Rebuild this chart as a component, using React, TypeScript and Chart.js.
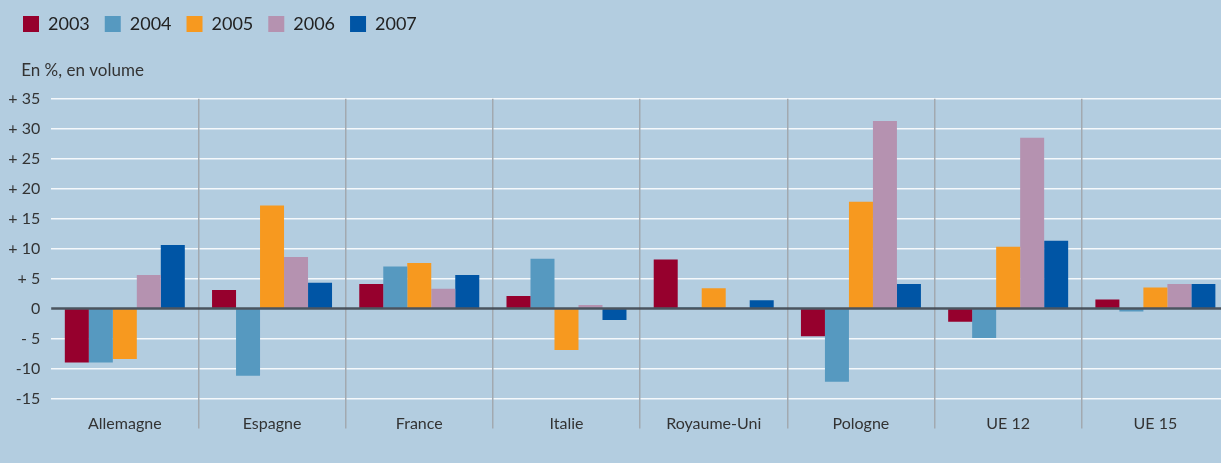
import React, { useEffect, useRef } from 'react';
import { Chart, registerables } from 'chart.js';

Chart.register(...registerables);

const categories = ['Allemagne', 'Espagne', 'France', 'Italie', 'Royaume-Uni', 'Pologne', 'UE 12', 'UE 15'];
const years = ['2003', '2004', '2005', '2006', '2007'];
const v2003 = [-9.0, 3.1, 4.1, 2.1, 8.2, -4.6, -2.2, 1.5];
const v2004 = [-9.0, -11.2, 7.0, 8.3, 0.2, -12.2, -4.9, -0.5];
const v2005 = [-8.4, 17.2, 7.6, -6.9, 3.4, 17.8, 10.3, 3.5];
const v2006 = [5.6, 8.6, 3.3, 0.6, 0.1, 31.3, 28.5, 4.1];
const v2007 = [10.6, 4.3, 5.6, -1.9, 1.4, 4.1, 11.3, 4.1];
const seriesValues = [v2003, v2004, v2005, v2006, v2007];
const seriesColors = ['#96002d', '#5699c0', '#f7991f', '#b592b0', '#0055a5'];
const yTicks = [-15, -10, -5, 0, 5, 10, 15, 20, 25, 30, 35];
const yTickLabels = ['-15', '-10', '- 5', '0', '+ 5', '+ 10', '+ 15', '+ 20', '+ 25', '+ 30', '+ 35'];
const unitLabel = 'En %, en volume';

const BG = '#b3cde0';
const TEXT = '#333333';

export default function App() {
  const ref = useRef<HTMLCanvasElement | null>(null);

  useEffect(() => {
    if (!ref.current) return;
    Chart.defaults.font.family = 'Lato, "Open Sans", sans-serif';

    const zeroLine = {
      id: 'zeroLine',
      afterDatasetsDraw(chart: any) {
        const { ctx, chartArea, scales } = chart;
        const y = scales.y.getPixelForValue(0);
        ctx.save();
        ctx.strokeStyle = 'rgba(66,74,84,0.92)';
        ctx.lineWidth = 2.6;
        ctx.beginPath();
        ctx.moveTo(chartArea.left, y);
        ctx.lineTo(chartArea.right, y);
        ctx.stroke();
        ctx.restore();
      },
    };

    const unitText = {
      id: 'unitText',
      afterDraw(chart: any) {
        const { ctx, chartArea } = chart;
        ctx.save();
        ctx.fillStyle = TEXT;
        ctx.font = '17px Lato, sans-serif';
        ctx.textAlign = 'left';
        ctx.textBaseline = 'middle';
        ctx.fillText(unitLabel, chartArea.left - 30, chartArea.top - 28);
        ctx.restore();
      },
    };

    const chart = new Chart(ref.current, {
      type: 'bar',
      data: {
        labels: categories,
        datasets: years.map((yr, i) => ({
          label: yr,
          data: seriesValues[i],
          backgroundColor: seriesColors[i],
          borderWidth: 0,
          categoryPercentage: 0.815,
          barPercentage: 1,
        })),
      },
      options: {
        animation: false,
        responsive: true,
        maintainAspectRatio: false,
        layout: { padding: { left: 8, top: 0, right: 0, bottom: 0 } },
        plugins: {
          legend: {
            display: true,
            position: 'top',
            align: 'start',
            labels: {
              boxWidth: 16,
              boxHeight: 16,
              padding: 15,
              color: '#222222',
              font: { size: 18 },
            },
          },
          tooltip: { enabled: false },
          title: { display: false },
        },
        scales: {
          x: {
            type: 'category',
            position: 'bottom',
            border: { display: false },
            grid: {
              display: true,
              offset: true,
              drawOnChartArea: true,
              drawTicks: true,
              tickLength: 30,
              lineWidth: 1.5,
              z: 0,
              color: (ctx: any) => (ctx.index === 0 ? 'rgba(0,0,0,0)' : '#a2a9b0'),
            },
            ticks: {
              color: TEXT,
              font: { size: 16 },
              padding: -14,
              maxRotation: 0,
              autoSkip: false,
            },
            afterFit(scale: any) {
              scale.height = 64.5;
            },
          },
          x2: {
            type: 'category',
            position: 'top',
            display: true,
            border: { display: false },
            grid: { display: false },
            ticks: { display: false },
            afterFit(scale: any) {
              scale.height = 55.7;
            },
          },
          y: {
            min: -15,
            max: 35,
            border: { display: false },
            grid: {
              color: (ctx: any) => (ctx.tick && ctx.tick.value === 0 ? 'rgba(0,0,0,0)' : '#f4f8fb'),
              lineWidth: 1.5,
              drawTicks: false,
            },
            afterBuildTicks(scale: any) {
              scale.ticks = yTicks.map((v) => ({ value: v }));
            },
            ticks: {
              color: TEXT,
              font: { size: 16 },
              padding: 11,
              callback: (value: any) => {
                const idx = yTicks.indexOf(Number(value));
                return idx >= 0 ? yTickLabels[idx] : '';
              },
            },
            afterFit(scale: any) {
              scale.width = 43.2;
            },
          },
        },
      },
      plugins: [zeroLine, unitText],
    });

    return () => chart.destroy();
  }, []);

  return (
    <div
      style={{
        position: 'fixed',
        left: 0,
        top: 0,
        width: 1221,
        height: 463,
        overflow: 'hidden',
        background: BG,
      }}
    >
      <div style={{ position: 'relative', width: 1229, height: 463 }}>
        <canvas ref={ref} />
      </div>
    </div>
  );
}
